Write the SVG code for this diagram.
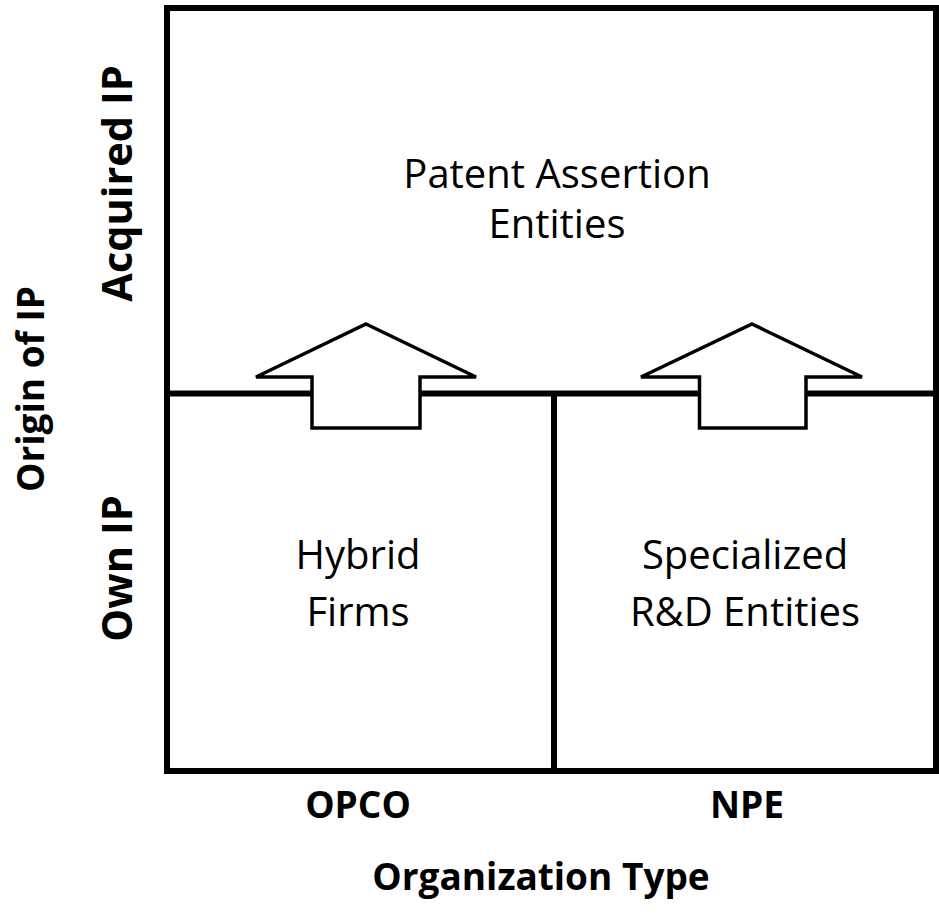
<svg xmlns="http://www.w3.org/2000/svg" width="939" height="921" viewBox="0 0 939 921">
  <style>
    .grid { fill: none; stroke: #000; stroke-width: 6; }
    .arrow { fill: #fff; stroke: #000; stroke-width: 3.5; stroke-linejoin: miter; }
    .cell { font-family: "Open Sans", "Liberation Sans", sans-serif; font-size: 40px; fill: #000; text-anchor: middle; }
    .axis { font-family: "Open Sans", "Liberation Sans", sans-serif; font-size: 37px; font-weight: 700; fill: #000; text-anchor: middle; }
    .vaxis { font-size: 41.5px; }
  </style>
  <rect width="939" height="921" fill="#fff"/>
  <g id="grid">
    <rect class="grid" x="167" y="8" width="769" height="763"/>
    <line class="grid" x1="167" y1="393.5" x2="936" y2="393.5"/>
    <line class="grid" x1="554" y1="393.5" x2="554" y2="771"/>
  </g>
  <g id="connectors">
    <polygon class="arrow" points="366,324 476,377 420,377 420,428 312,428 312,377 256,377"/>
    <polygon class="arrow" points="752,324 862,377 806,377 806,428 699.5,428 699.5,377 641,377"/>
  </g>
  <g id="node-pae">
    <text class="cell" x="557" y="188">Patent Assertion</text>
    <text class="cell" x="557" y="238">Entities</text>
  </g>
  <g id="node-hybrid">
    <text class="cell" x="358" y="569">Hybrid</text>
    <text class="cell" x="358" y="626">Firms</text>
  </g>
  <g id="node-rnd">
    <text class="cell" x="745" y="569">Specialized</text>
    <text class="cell" x="745" y="626">R&amp;D Entities</text>
  </g>
  <g id="label-opco"><text class="axis" x="358" y="818" font-size="38.5">OPCO</text></g>
  <g id="label-npe"><text class="axis" x="747" y="818" font-size="38.5">NPE</text></g>
  <g id="label-orgtype"><text class="axis" x="541" y="890">Organization Type</text></g>
  <g id="label-acquired"><text class="axis vaxis" transform="translate(132,183.5) rotate(-90)">Acquired IP</text></g>
  <g id="label-own"><text class="axis vaxis" transform="translate(132,568.5) rotate(-90)">Own IP</text></g>
  <g id="label-origin"><text class="axis" font-size="40" transform="translate(44,389) rotate(-90)">Origin of IP</text></g>
</svg>
